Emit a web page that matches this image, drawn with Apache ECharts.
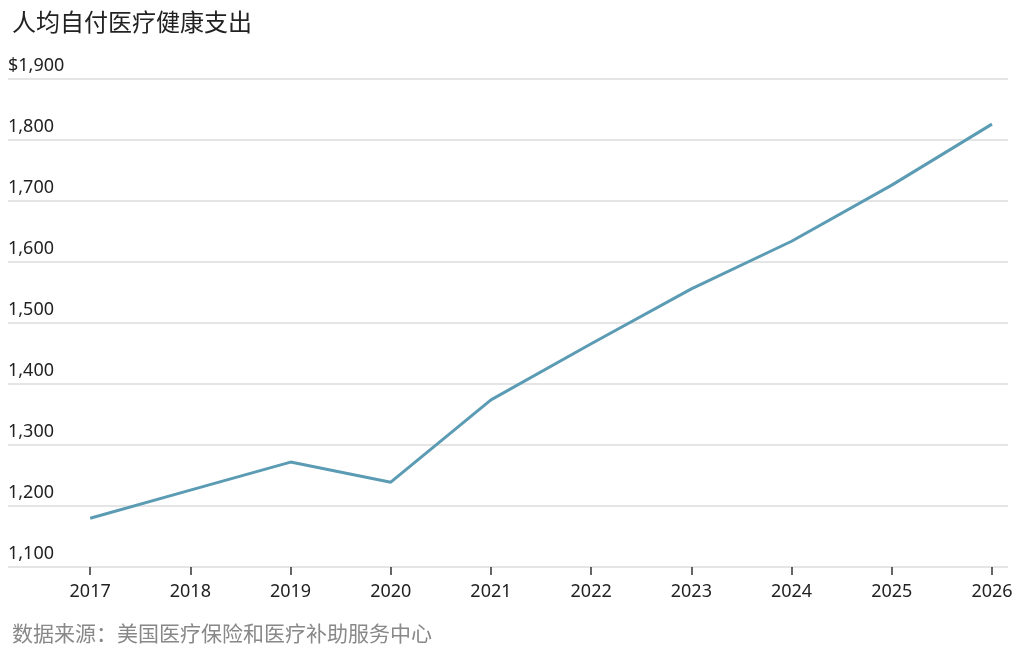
<!DOCTYPE html>
<html lang="zh">
<head>
    <meta charset="UTF-8">
    <title>人均自付医疗健康支出</title>
    <script src="https://cdn.jsdelivr.net/npm/echarts@6/dist/echarts.min.js"></script>
    <style>
        *{
            margin: 0;
            padding: 0;
        }
        body{
            background: #fff;
            overflow: hidden;
        }
        .container{
            width: 1024px;
            height: 653px;
        }
    </style>
</head>
<body>
<div class="container"></div>
<script>
    // 数据
    let years = [2017, 2018, 2019, 2020, 2021, 2022, 2023, 2024, 2025, 2026];
    let spending = [1180, 1226, 1272, 1239, 1374, 1466, 1556, 1634, 1726, 1826];
    let yTicks = [1100, 1200, 1300, 1400, 1500, 1600, 1700, 1800, 1900];

    let container = document.querySelector('.container');
    let mycharts = echarts.init(container);

    let cjkFont = '"Noto Sans CJK SC", "Noto Sans", sans-serif';
    let numFont = '"Noto Sans", sans-serif';

    let options = {
        backgroundColor: '#fff',
        animation: false,
        title: [{
            text: '人均自付医疗健康支出',
            left: 7,
            top: 5,
            textStyle: {
                fontFamily: cjkFont,
                fontSize: 24,
                fontWeight: 'normal',
                color: '#222'
            }
        }, {
            text: '数据来源：美国医疗保险和医疗补助服务中心',
            left: 7,
            top: 618,
            textStyle: {
                fontFamily: cjkFont,
                fontSize: 21,
                fontWeight: 'normal',
                color: '#888'
            }
        }],
        grid: {
            left: 8,
            right: 16,
            top: 79,
            bottom: 86
        },
        xAxis: {
            type: 'value',
            min: 2016.18,
            max: 2026.16,
            splitLine: {show: false},
            axisLine: {show: false},
            axisTick: {
                show: true,
                customValues: years,
                length: 8,
                lineStyle: {color: '#333', width: 1.5}
            },
            axisLabel: {
                customValues: years,
                margin: 16,
                fontFamily: numFont,
                fontSize: 18,
                color: '#222',
                formatter: v => String(v)
            }
        },
        yAxis: {
            type: 'value',
            min: 1100,
            max: 1900,
            interval: 100,
            axisLine: {show: false},
            axisTick: {show: false},
            splitLine: {
                lineStyle: {color: '#dcdcdc', width: 1.5}
            },
            axisLabel: {
                inside: true,
                margin: 0,
                align: 'left',
                verticalAlign: 'bottom',
                padding: [0, 0, 4, 0],
                fontFamily: numFont,
                fontSize: 18,
                color: '#222',
                formatter: function (v) {
                    let s = v.toLocaleString('en-US');
                    return v === yTicks[yTicks.length - 1] ? '$' + s : s;
                }
            }
        },
        series: [{
            type: 'line',
            data: years.map((y, i) => [y, spending[i]]),
            showSymbol: false,
            lineStyle: {color: '#5b9cb4', width: 3},
            z: 3
        }]
    };

    mycharts.setOption(options);
</script>
</body>
</html>
